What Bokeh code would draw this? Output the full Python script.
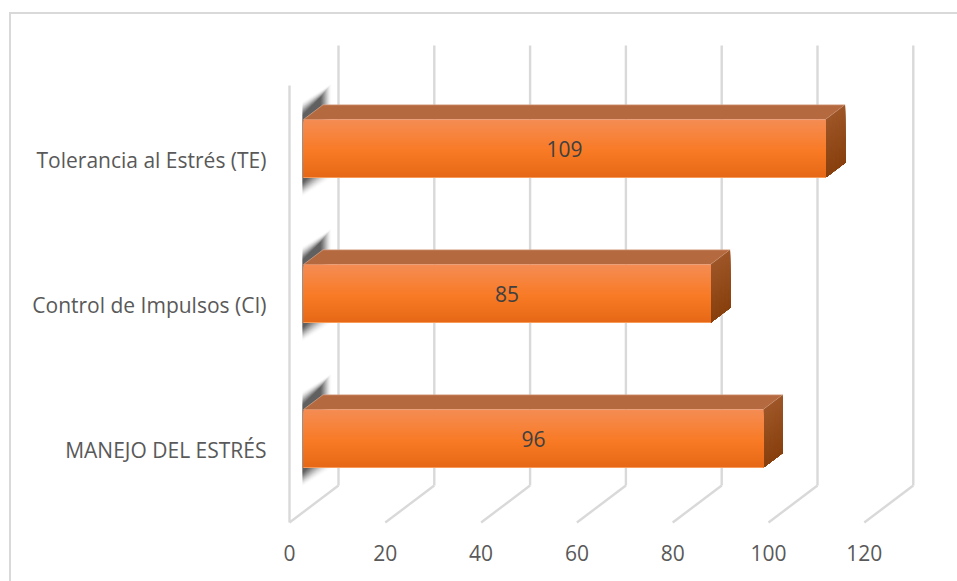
from bokeh.embed import file_html
from bokeh.models import FixedTicker, Range1d
from bokeh.plotting import figure
from bokeh.resources import INLINE

# Chart values, top bar first
categories = ["Tolerancia al Estrés (TE)", "Control de Impulsos (CI)", "MANEJO DEL ESTRÉS"]
values = [109, 85, 96]
value_ticks = [0, 20, 40, 60, 80, 100, 120]

WIDTH, HEIGHT = 957, 581
FRAME_LEFT, FRAME_BOTTOM = 275, 530

# Horizontal scale of the value axis and the oblique offsets of the 3D box
PX_PER_UNIT = 4.79
ZERO_PX = 289
FRONT_SHIFT = 14.0 / PX_PER_UNIT   # bars' front plane relative to the floor edge
DEPTH_X = 19.5 / PX_PER_UNIT       # bar depth
DEPTH_Y = 14.7
WALL_X = 49.0 / PX_PER_UNIT        # back wall relative to the floor edge
FLOOR_FRONT_Y, FLOOR_BACK_Y, WALL_TOP_Y = 522, 485, 45
LEFT_WALL_TOP_Y = 85

# Vertical layout, in page pixels
BAR_TOPS = [119, 264, 409]
BAR_HEIGHT = 58
LABEL_YS = [159.5, 304.5, 449.5]

FONT = "Open Sans"
TEXT_COLOR = "#595959"
GRID_COLOR = "#d9d9d9"
FRONT_STOPS = [(0.0, (245, 140, 84)), (0.55, (248, 122, 36)), (1.0, (229, 104, 22))]
SIDE_STOPS = [(0.0, (158, 86, 40)), (1.0, (136, 64, 14))]
TOP_COLOR = "#b5693f"


def ramp(stops, t):
    """Colour at position t along a list of gradient stops."""
    for (t0, c0), (t1, c1) in zip(stops, stops[1:]):
        if t <= t1:
            f = (t - t0) / (t1 - t0)
            r, g, b = (round(a + (e - a) * f) for a, e in zip(c0, c1))
            return f"#{r:02x}{g:02x}{b:02x}"
    r, g, b = stops[-1][1]
    return f"#{r:02x}{g:02x}{b:02x}"


p = figure(
    width=WIDTH,
    height=HEIGHT,
    output_backend="svg",
    toolbar_location=None,
    x_range=Range1d((FRAME_LEFT - ZERO_PX) / PX_PER_UNIT, (WIDTH - ZERO_PX) / PX_PER_UNIT),
    y_range=Range1d(FRAME_BOTTOM, 0),
    min_border_left=FRAME_LEFT,
    min_border_right=0,
    min_border_top=0,
    min_border_bottom=HEIGHT - FRAME_BOTTOM,
    background_fill_color=None,
    border_fill_color=None,
    outline_line_color=None,
)
p.grid.visible = False

# Outer chart border, open on the right and bottom, painted behind the canvas
rule = f"linear-gradient({GRID_COLOR},{GRID_COLOR})"
p.styles = {
    "background": (
        f"{rule} 9px 12px/{WIDTH - 9}px 2px no-repeat, "
        f"{rule} 9px 12px/2px {HEIGHT - 12}px no-repeat, white"
    ),
}

# Value axis
p.xaxis.ticker = FixedTicker(ticks=value_ticks)
p.xaxis.axis_line_color = None
p.xaxis.major_tick_line_color = None
p.xaxis.minor_tick_line_color = None
p.xaxis.major_label_text_font = FONT
p.xaxis.major_label_text_font_size = "21px"
p.xaxis.major_label_text_color = TEXT_COLOR
p.xaxis.major_label_standoff = 8

# Category axis
p.yaxis.ticker = FixedTicker(ticks=LABEL_YS)
p.yaxis.major_label_overrides = dict(zip(LABEL_YS, categories))
p.yaxis.axis_line_color = None
p.yaxis.major_tick_line_color = None
p.yaxis.minor_tick_line_color = None
p.yaxis.major_label_text_font = FONT
p.yaxis.major_label_text_font_size = "21px"
p.yaxis.major_label_text_color = TEXT_COLOR
p.yaxis.major_label_standoff = 3

# Back wall gridlines and their floor returns
back = [t + WALL_X for t in value_ticks]
p.segment(back, [FLOOR_BACK_Y] * 7, back, [WALL_TOP_Y] * 7, line_color=GRID_COLOR, line_width=2.4)
p.segment(back, [FLOOR_BACK_Y] * 7, value_ticks, [FLOOR_FRONT_Y] * 7, line_color=GRID_COLOR, line_width=2.4)

# Side wall edge at zero
p.segment([0], [FLOOR_FRONT_Y], [0], [LEFT_WALL_TOP_Y], line_color=GRID_COLOR, line_width=2.4)

for cat_top, val in zip(BAR_TOPS, values):
    x0 = FRONT_SHIFT
    x1 = val + FRONT_SHIFT
    bottom = cat_top + BAR_HEIGHT

    # Soft shadow thrown on the wall: nested layers growing denser inward
    layers = 24
    for k in range(layers):
        inset = k * 0.6
        sx0 = x0 - 1 / PX_PER_UNIT
        sx1 = x0 + (28 - inset * 0.8) / PX_PER_UNIT
        p.patch(
            [sx0, sx1, sx1, sx0],
            [cat_top - 18 + inset, cat_top - 36 + inset, bottom + 1 - inset, bottom + 19 - inset],
            fill_color="#303030", fill_alpha=0.008 + 0.10 * k / layers, line_color=None,
        )

    # Top face
    p.patch(
        [x0, x1, x1 + DEPTH_X, x0 + DEPTH_X],
        [cat_top, cat_top, cat_top - DEPTH_Y, cat_top - DEPTH_Y],
        fill_color=TOP_COLOR, line_color="#e3b79f", line_width=0.6,
    )

    # Right face: each strip runs to the bottom and is overpainted by the next
    for i in range(BAR_HEIGHT):
        a = i / BAR_HEIGHT
        ya = cat_top + i
        p.patch(
            [x1, x1 + DEPTH_X, x1 + DEPTH_X, x1],
            [ya, ya - DEPTH_Y, bottom - DEPTH_Y, bottom],
            fill_color=ramp(SIDE_STOPS, a), line_color=None,
        )

    # Front face, overpainted one pixel row at a time
    for i in range(BAR_HEIGHT):
        a = i / BAR_HEIGHT
        p.quad(
            left=x0, right=x1, top=cat_top + i, bottom=bottom,
            fill_color=ramp(FRONT_STOPS, a), line_color=None,
        )
    p.segment([x0], [bottom], [x1], [bottom], line_color="#f79a5a", line_width=1)

    # Value label centred on the front face
    p.text(
        x=[(x0 + x1) / 2], y=[cat_top + BAR_HEIGHT / 2 + 0.5], text=[str(val)],
        text_align="center", text_baseline="middle",
        text_font={"value": FONT}, text_font_size="21px", text_color="#404040",
    )

open("out.html", "w").write(file_html(p, INLINE))
